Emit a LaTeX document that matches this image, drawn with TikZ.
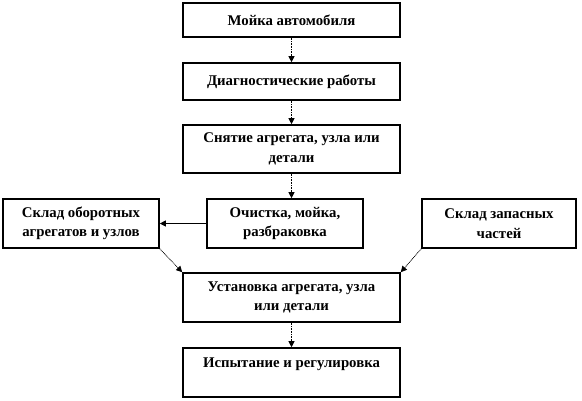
\documentclass[tikz,border=0pt]{standalone}
\usepackage{fontspec}
\setmainfont{Liberation Serif}
\usetikzlibrary{arrows.meta}
\begin{document}
\begin{tikzpicture}[x=1bp,y=-1bp,
  box/.style={draw=black, line width=1.6bp, fill=white, align=center, inner sep=0pt,
    font=\fontsize{14.8bp}{19.5bp}\selectfont\bfseries},
  dotarrow/.style={line width=0.8bp, dash pattern=on 0.8bp off 0.8bp, -{Triangle[length=6bp,width=6bp]}},
  solidarrow/.style={line width=0.8bp, -{Triangle[length=6bp,width=6bp]}}]
\useasboundingbox (0,0) rectangle (582,400);
\node[box, minimum width=217bp, minimum height=34bp] (b1) at (291.5,20) {Мойка автомобиля};
\node[box, minimum width=217bp, minimum height=37bp] (b2) at (291.5,81.5) {Диагностические работы};
\node[box, minimum width=217bp, minimum height=48bp] (b3) at (291.5,149) {Снятие агрегата, узла или\\детали};
\node[box, minimum width=156bp, minimum height=49bp] (b4) at (285,223.5) {Очистка, мойка,\\разбраковка};
\node[box, minimum width=156bp, minimum height=49bp] (bl) at (81,223.5) {Склад оборотных\\агрегатов и узлов};
\node[box, minimum width=154bp, minimum height=49bp] (br) at (499,223.5) {Склад запасных\\частей};
\node[box, minimum width=217bp, minimum height=49bp] (b5) at (291.5,297.5) {Установка агрегата, узла\\или детали};
\node[box, minimum width=217bp, minimum height=49bp] (b6) at (291.5,372.5) {Испытание и регулировка\\\mbox{}};
\draw[dotarrow] (b1.south) -- (b2.north);
\draw[dotarrow] (b2.south) -- (b3.north);
\draw[dotarrow] (b3.south) -- (b3.south |- b4.north);
\draw[solidarrow] (b4.west) -- (bl.east);
\draw[dotarrow] (bl.south east) -- (b5.north west);
\draw[dotarrow] (br.south west) -- (b5.north east);
\draw[dotarrow] (b5.south) -- (b6.north);
\end{tikzpicture}
\end{document}
